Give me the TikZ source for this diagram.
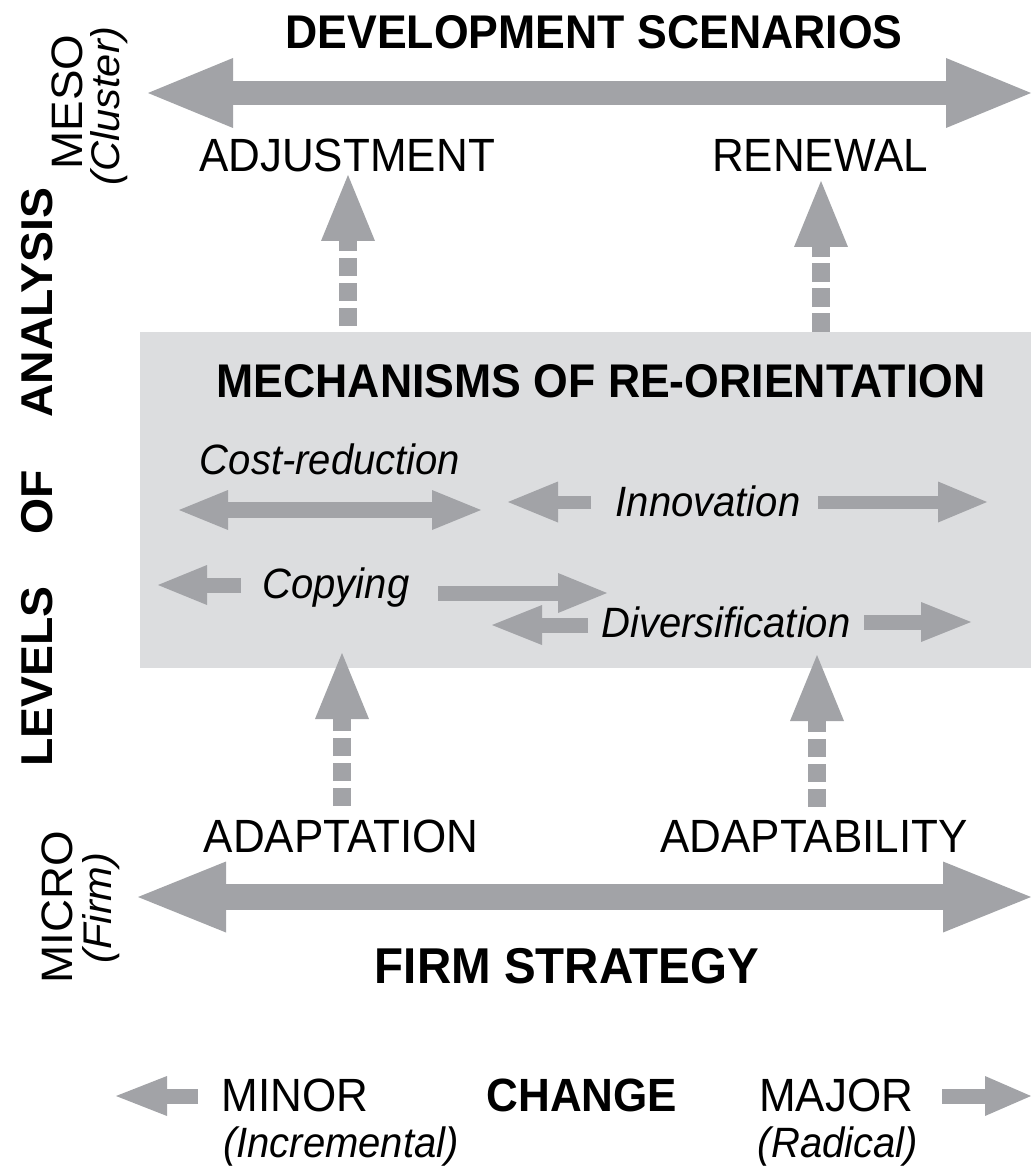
\documentclass[tikz,border=0pt]{standalone}
\usepackage{fontspec}
\setmainfont{Liberation Sans}
\usetikzlibrary{arrows.meta}
\definecolor{arrowgray}{RGB}{162,163,167}
\definecolor{boxgray}{RGB}{220,221,223}
\newcommand\fsCap{\fontsize{44}{50}\selectfont}
\newcommand\fsBold{\fontsize{44.6}{50}\selectfont\bfseries}
\newcommand\fsIt{\fontsize{40}{46}\selectfont\itshape}
\newcommand\vst[1]{\scalebox{1}[1.06]{#1}}
\newcommand\hst[1]{\scalebox{1.04}[1]{#1}}
\tikzset{
  lbl/.style={inner sep=0pt, anchor=base, font=\fsCap},
  blbl/.style={inner sep=0pt, anchor=base, font=\fsBold},
  ilbl/.style={inner sep=0pt, anchor=base, font=\fsIt},
  dblarrow/.style n args={3}{draw=arrowgray, line width=#1,
    {Triangle[length=#2,width=#3,line width=0pt,fill=arrowgray]}-{Triangle[length=#2,width=#3,line width=0pt,fill=arrowgray]}},
  onearrow/.style n args={3}{draw=arrowgray, line width=#1,
    -{Triangle[length=#2,width=#3,line width=0pt,fill=arrowgray]}},
  dasharrow/.style n args={3}{draw=arrowgray, line width=18pt,
    dash pattern=on #1 off #2, dash phase=#3,
    -{Triangle[length=66pt,width=54pt,line width=0pt,fill=arrowgray]}}
}
\begin{document}
\begin{tikzpicture}[x=1pt,y=-1pt]
\useasboundingbox (0,0) rectangle (1031,1166);

% grey box
\node[fill=boxgray, inner sep=0pt, minimum width=891pt, minimum height=336pt, anchor=north west] (box) at (140,332) {};

% top level
\node[blbl] (dev) at (594,49) {\vst{DEVELOPMENT SCENARIOS}};
\coordinate (topL) at (148,93);
\coordinate (topR) at (1031,93);
\draw[dblarrow={24pt}{85pt}{70pt}] (topL) -- (topR);
\node[lbl, rotate=90] (meso) at (82,102) {\hst{MESO}};
\node[ilbl, rotate=90] (cluster) at (119,106) {\hst{(Cluster)}};
\node[lbl] (adj) at (347,172) {\vst{ADJUSTMENT}};
\node[lbl] (ren) at (820,172) {\vst{RENEWAL}};

% dashed arrows up to the top labels
\coordinate (adjS) at (348,332);
\coordinate (adjT) at (348,175);
\coordinate (renS) at (821,332);
\coordinate (renT) at (821,181);
\draw[dasharrow={18pt}{7pt}{19pt}] (adjS) -- (adjT);
\draw[dasharrow={19pt}{6pt}{0pt}] (renS) -- (renT);

% mechanisms
\node[blbl] (mech) at (601,397) {\vst{MECHANISMS OF RE-ORIENTATION}};
\node[ilbl] (cost) at (330,474) {\vst{Cost-reduction}};
\coordinate (costL) at (179,510);
\coordinate (costR) at (481,510);
\draw[dblarrow={16pt}{49pt}{40pt}] (costL) -- (costR);

\node[ilbl] (innov) at (708,516) {\vst{Innovation}};
\coordinate (innovLs) at (591,502);
\coordinate (innovLt) at (508,502);
\coordinate (innovRs) at (818,502);
\coordinate (innovRt) at (987,502);
\draw[onearrow={13pt}{50pt}{41pt}] (innovLs) -- (innovLt);
\draw[onearrow={13pt}{49pt}{41pt}] (innovRs) -- (innovRt);

\node[ilbl] (copy) at (336,598) {\vst{Copying}};
\coordinate (copyLs) at (241,585);
\coordinate (copyLt) at (158,585);
\coordinate (copyRs) at (438,593);
\coordinate (copyRt) at (607,593);
\draw[onearrow={15pt}{49pt}{40pt}] (copyLs) -- (copyLt);
\draw[onearrow={15pt}{49pt}{40pt}] (copyRs) -- (copyRt);

\node[ilbl] (div) at (726,637) {\vst{Diversification}};
\coordinate (divLs) at (588,625);
\coordinate (divLt) at (492,625);
\coordinate (divRs) at (864,622);
\coordinate (divRt) at (971,622);
\draw[onearrow={15pt}{50pt}{40pt}] (divLs) -- (divLt);
\draw[onearrow={15pt}{50pt}{40pt}] (divRs) -- (divRt);

% dashed arrows up from bottom labels
\coordinate (adaS) at (342,806);
\coordinate (adaT) at (342,653);
\coordinate (abiS) at (817,807);
\coordinate (abiT) at (817,655);
\draw[dasharrow={18pt}{7pt}{0pt}] (adaS) -- (adaT);
\draw[dasharrow={18pt}{7pt}{0pt}] (abiS) -- (abiT);

% bottom level
\node[lbl] (ada) at (341,852) {\vst{ADAPTATION}};
\node[lbl] (abi) at (814,852) {\vst{ADAPTABILITY}};
\coordinate (botL) at (138,897);
\coordinate (botR) at (1031,897);
\draw[dblarrow={26pt}{88pt}{71pt}] (botL) -- (botR);
\node[lbl, rotate=90] (micro) at (72,907) {\hst{MICRO}};
\node[ilbl, rotate=90] (firm) at (111,908) {\hst{(Firm)}};
\node[blbl, font=\fontsize{47.5}{52}\selectfont\bfseries] (fs) at (567,983) {\vst{FIRM STRATEGY}};

% axis label
\node[blbl, rotate=90] (levels) at (52,477) {\hst{LEVELS\hspace{50pt}OF\hspace{50pt}ANALYSIS}};

% change legend
\node[lbl] (minor) at (295,1111) {\vst{MINOR}};
\node[blbl, font=\fontsize{44}{50}\selectfont\bfseries] (change) at (582,1111) {\vst{CHANGE}};
\node[lbl] (major) at (836,1111) {\vst{MAJOR}};
\node[ilbl] (incr) at (341,1157) {\vst{(Incremental)}};
\node[ilbl] (rad) at (838,1157) {\vst{(Radical)}};
\coordinate (minS) at (198,1096);
\coordinate (minT) at (116,1096);
\coordinate (majS) at (942,1096);
\coordinate (majT) at (1031,1096);
\draw[onearrow={15pt}{51pt}{40pt}] (minS) -- (minT);
\draw[onearrow={15pt}{46pt}{40pt}] (majS) -- (majT);
\end{tikzpicture}
\end{document}
